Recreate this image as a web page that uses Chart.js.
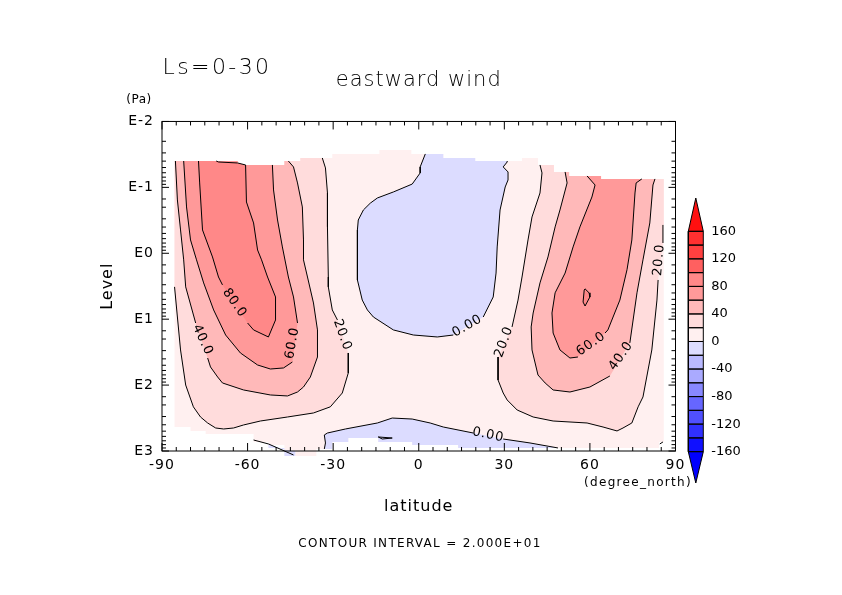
<!DOCTYPE html>
<html>
<head>
<meta charset="utf-8">
<title>eastward wind</title>
<script src="https://cdn.jsdelivr.net/npm/chart.js@4"></script>
<style>
  body { margin: 0; background: #fff; }
  #wrap { position: relative; width: 842px; height: 595px; }
  canvas { position: absolute; }
</style>
</head>
<body>
<div id="wrap">
  <canvas id="windChart" width="842" height="595" style="left:0;top:0"></canvas>
  <canvas id="colorBar" width="100" height="300" style="left:660px;top:190px"></canvas>
</div>
<script>
// all contour data is [latitude, log10(pressure in Pa)], null = gap left for a contour label
const latTicksMajor = 30;
const colorbarTicks = [-160, -120, -80, -40, 0, 40, 80, 120, 160];
const colorbarLevels = [-160, -140, -120, -100, -80, -60, -40, -20, 0, 20, 40, 60, 80, 100, 120, 140, 160];
const colorbarColors = ['#1010ff', '#3030ff', '#5050ff', '#6666ff', '#8888ff', '#aaaaff', '#b9b9ff', '#dcdcff',
                        '#fff0f0', '#ffdcdc', '#ffb9b9', '#ff9999', '#ff8888', '#ff6060', '#ff4040', '#ff3030'];
const colorbarTop = [[0, 160], [0.5, 208.4], [1, 160], [0, 160]];
const colorbarBottom = [[0, -160], [0.5, -205.5], [1, -160], [0, -160]];

// stepped outline of the data region
const domainOutline = [[-85.6,-1.40],[-63.5,-1.40],[-63.5,-1.34],[-47.1,-1.34],[-47.1,-1.40],[-41.5,-1.40],[-41.5,-1.446],[-30.3,-1.446],[-30.3,-1.507],[-13.8,-1.507],[-13.8,-1.567],[-2.6,-1.567],[-2.6,-1.507],[8.6,-1.507],[8.6,-1.446],[19.8,-1.446],[19.8,-1.40],[36.2,-1.40],[36.2,-1.446],[41.8,-1.446],[41.8,-1.34],[47.4,-1.34],[47.4,-1.234],[52.7,-1.234],[52.7,-1.173],[63.9,-1.173],[63.9,-1.128],[85.9,-1.128],[85.9,2.863],[84.2,2.863],[84.2,2.954],[13.8,2.954],[13.8,2.908],[-2.3,2.908],[-2.3,2.863],[-14.2,2.863],[-14.2,2.803],[-24.7,2.803],[-24.7,2.863],[-30.3,2.863],[-30.3,2.969],[-35.9,2.969],[-35.9,3.0],[-47.1,3.0],[-47.1,2.908],[-52.7,2.908],[-52.7,2.863],[-57.9,2.863],[-57.9,2.742],[-74.7,2.742],[-74.7,2.696],[-80,2.696],[-80,2.636],[-85.6,2.636]];

const zeroMain = [[2.3,-1.507],[0.5,-1.31],[0.5,-1.219],[-2.3,-1.05],[-8.9,-0.93],[-14.5,-0.839],[-17,-0.76],[-19.4,-0.657],[-21.2,-0.505],[-21.5,-0.354],[-21.5,0.405],[-19.8,0.71],[-18,0.86],[-15.9,0.967],[-8.9,1.163],[-1.9,1.24],[6.5,1.27],[12.1,1.24],null,[22.6,0.967],[23.3,0.906],[26.1,0.663],[27.1,0.30],[27.5,-0.096],[28.5,-0.657],[30.3,-1.006],[31.3,-1.112],[31.3,-1.234],[29.6,-1.31],[31,-1.385],[31,-1.40]];
const zeroMainEdge = [[19.8,-1.40],[19.8,-1.446],[8.6,-1.446],[8.6,-1.507]];
const zeroBottom = [[-33.1,2.969],[-32.7,2.878],[-33.1,2.757],[-32,2.727],[-25.7,2.666],[-14.5,2.575],[-9.3,2.5],[-2.3,2.515],[4,2.575],[8.6,2.636],[19.1,2.727],null,[29.6,2.818],[39,2.878],[48.8,2.954]];
const zeroBottomEdge = [[13.8,2.954],[13.8,2.908],[-2.3,2.908],[-2.3,2.863],[-14.2,2.863],[-14.2,2.803],[-24.7,2.803],[-24.7,2.863],[-30.3,2.863],[-30.3,2.969]];
const zeroSliver = [[-52.7,2.893],[-47.1,2.98],[-43.9,3.0],[-47.1,3.0],[-47.1,2.954],[-52.7,2.954]];
const zeroLens = [[-14.2,2.787],[-9.3,2.803],[-12.8,2.818],[-14.2,2.787]];
const zeroBottomLeft = [[-57.9,2.833],[-52.7,2.893],[-43.9,3.06]];
const cornerLine = [[84.5,2.893],[85.6,2.863]];
const belowAxisBlue = [[-47.1,3.038],[-43.2,3.038]];
const belowAxisPink = [[-43.2,3.038],[-35.9,3.038]];

const c20Left = [[-33.8,-1.446],[-32.7,-1.295],[-32,-0.915],[-32,-0.40],[-31.7,0.36],[-31.7,0.51],[-30.3,0.86],[-28.5,1.012],null,[-24.7,1.513],[-24.7,1.816],[-26.8,2.12],[-31,2.33],[-36.9,2.423],[-46,2.484],[-55.5,2.545],[-61.4,2.605],[-64.9,2.651],[-68.4,2.666],[-71.2,2.651],[-74,2.575],[-76.5,2.484],[-79,2.33],[-81.7,1.999],[-83.5,1.467],[-84.6,0.967],[-85.6,0.51]];
const c20LeftEdge = [[-85.6,-1.40],[-63.5,-1.40],[-63.5,-1.34],[-47.1,-1.34],[-47.1,-1.40],[-41.5,-1.40],[-41.5,-1.446]];
const c40Left = [[-85.3,-1.40],[-84.6,-0.809],[-83.5,-0.354],[-82.4,0.10],[-81.7,0.51],[-78.2,1.058],null,[-74,1.589],[-73,1.725],[-70.5,1.877],[-68.8,1.968],[-61.4,2.074],[-52,2.15],[-46,2.165],[-42.5,2.105],[-40.4,2.029],[-38,1.877],[-35.5,1.574],[-35.5,1.163],[-36.9,0.754],[-39,0.36],[-40.4,0.10],[-40.4,-0.202],[-40.8,-0.703],[-42.5,-1.067],[-43.9,-1.31],[-45.7,-1.40]];
const c40LeftEdge = [[-47.1,-1.40],[-47.1,-1.34],[-63.5,-1.34],[-63.5,-1.40]];
const c60Left = [[-82.4,-1.40],[-81.4,-0.703],[-80,-0.202],[-77.9,0.10],[-75.4,0.45],[-71.9,0.86],[-67.7,1.24],[-62.5,1.513],[-56.5,1.695],[-52,1.756],[-47.4,1.74],[-44.3,1.65],null,[-42.5,1.058],[-43.9,0.663],[-45.7,0.36],[-47.8,-0.096],[-49.5,-0.505],[-50.9,-0.961],[-51.3,-1.34]];
const c60LeftEdge = [[-63.5,-1.34],[-63.5,-1.40]];
const c80Left = [[-77.2,-1.40],[-76.8,-1.067],[-75.8,-0.354],[-72.3,0.056],[-70.2,0.36],[-68.8,0.48],null,[-60,1.058],[-57.9,1.163],[-52.7,1.27],[-50.2,1.012],[-50.2,0.663],[-53,0.36],[-55.1,0.10],[-56.5,-0.05],[-57.9,-0.46],[-60.4,-0.778],[-60.7,-1.34],[-63.5,-1.37],[-70.2,-1.385],[-71,-1.40]];

const c20Right = [[42.5,-1.34],[43.2,-1.219],[42.5,-0.915],[39.7,-0.551],[38.3,-0.202],[36.2,0.36],[34.8,0.71],[32.7,1.118],null,[27.8,1.574],[27.8,1.923],[29.6,2.12],[31,2.226],[34.5,2.378],[40.1,2.484],[47.1,2.545],[59,2.575],[64.6,2.636],[69.5,2.696],[71.6,2.651],[74.7,2.575],[76.9,2.33],[78.6,2.18],[81.7,1.467],[83.5,0.71],[83.9,0.405],null,[85.6,-0.156],[85.6,-0.43]];
const c20RightEdge = [[85.9,-0.43],[85.9,-1.128],[63.9,-1.128],[63.9,-1.173],[52.7,-1.173],[52.7,-1.234],[47.4,-1.234],[47.4,-1.34]];
const c40Right = [[82.8,-1.128],[82.1,-1.036],[81,-0.46],[78.6,0.10],[76.5,0.60],[74,1.36],null,[67,1.862],[60,2.029],[53,2.105],[47.1,2.074],[44.3,1.968],[41.8,1.847],[39.7,1.467],[39.4,1.118],[40.1,0.906],[42.5,0.45],[45.3,0.056],[47.8,-0.40],[49.5,-0.657],[52,-1.067],[51.3,-1.234]];
const c40RightEdge = [[52.7,-1.234],[52.7,-1.173],[63.9,-1.173],[63.9,-1.128]];
const c60Right = [[78.2,-1.128],[76.2,-1.067],[75.8,-0.915],[74.7,-0.202],[73,0.25],[70.5,0.71],[66.3,1.163],[65.3,1.21],null,[55.8,1.574],[53,1.589],[49.5,1.467],[47.1,1.21],[46.7,0.906],[47.8,0.60],[51.3,0.30],[54.1,-0.096],[56.5,-0.40],[60.7,-0.854],[61.8,-1.036],[59,-1.173]];
const c60RightEdge = [[63.9,-1.173],[63.9,-1.128]];
const c80Right = [[58,0.557],[58.3,0.54],[59.7,0.60],[60,0.663],[58.3,0.80],[57.6,0.74],[58,0.557]];

const labelTexts = ['80.0', '60.0', '40.0', '20.0', '0.00', '20.0', '60.0', '40.0', '20.0', '0.00'];
const labelLats = [-64.6, -44.3, -75.8, -26.8, 17, 29.9, 60.4, 70.9, 84.2, 24.3];
const labelLevels = [0.754, 1.361, 1.315, 1.24, 1.103, 1.346, 1.376, 1.558, 0.10, 2.757];
const labelAngles = [55, -80, 65, 70, -30, -70, -35, -55, -85, 12];

const FONT = '"DejaVu Sans"';
const toPoints = (pts, isLog) => pts.map(p => p ? { x: p[0], y: isLog ? Math.pow(10, p[1]) : p[1] } : { x: NaN, y: NaN });

function area(pts, color, isLog) {
    return { data: toPoints(pts.filter(p => p), isLog), showLine: true, fill: 'shape', backgroundColor: color, borderWidth: 0, pointRadius: 0, clip: false };
}
function contour(pts, isLog, width) {
    return { data: toPoints(pts, isLog), showLine: true, fill: false, borderColor: '#000', borderWidth: width || 1, pointRadius: 0, spanGaps: false, clip: false };
}
// first in the list is painted first
function stacked(list) {
    list.forEach((d, i) => { d.order = list.length - i; });
    return list;
}

const mainSets = stacked([
    area(domainOutline, '#fff0f0', true),
    area(zeroMain.concat(zeroMainEdge), '#dcdcff', true),
    area(zeroBottom.concat(zeroBottomEdge), '#dcdcff', true),
    area(zeroSliver, '#dcdcff', true),
    Object.assign(contour(belowAxisBlue, true, 5), { borderColor: '#dcdcff' }),
    Object.assign(contour(belowAxisPink, true, 5), { borderColor: '#fff0f0' }),
    area(c20Left.concat(c20LeftEdge), '#ffdcdc', true),
    area(c20Right.concat(c20RightEdge), '#ffdcdc', true),
    area(c40Left.concat(c40LeftEdge), '#ffb9b9', true),
    area(c40Right.concat(c40RightEdge), '#ffb9b9', true),
    area(c60Left.concat(c60LeftEdge), '#ff9999', true),
    area(c60Right.concat(c60RightEdge), '#ff9999', true),
    area(c80Left, '#ff8888', true),
    area(c80Right, '#ff8888', true),
    contour(zeroMain, true), contour(zeroBottom, true), contour(zeroLens, true),
    contour(zeroBottomLeft, true), contour(cornerLine, true),
    contour(c20Left, true), contour(c40Left, true), contour(c60Left, true), contour(c80Left, true),
    contour(c20Right, true), contour(c40Right, true), contour(c60Right, true), contour(c80Right, true)
]);

// inward tick marks on all four sides, frame, contour labels and free text
const framePlugin = {
    id: 'frame',
    beforeDraw(chart) {
        chart.ctx.letterSpacing = '1px'; // stroke font of the original runs wide
    },
    afterDatasetsDraw(chart) {
        const { ctx, chartArea: a, scales: { x, y } } = chart;
        ctx.save();
        ctx.strokeStyle = '#000';
        ctx.lineWidth = 1;
        ctx.strokeRect(a.left, a.top, a.right - a.left, a.bottom - a.top);
        ctx.beginPath();
        x.ticks.forEach(t => {
            const px = x.getPixelForValue(t.value);
            const len = t.value % latTicksMajor === 0 ? 8 : 4;
            ctx.moveTo(px, a.bottom); ctx.lineTo(px, a.bottom - len);
            ctx.moveTo(px, a.top); ctx.lineTo(px, a.top + len);
        });
        y.ticks.forEach(t => {
            const py = y.getPixelForValue(t.value);
            const len = isDecade(t.value) ? 7 : 4;
            ctx.moveTo(a.left, py); ctx.lineTo(a.left + len, py);
            ctx.moveTo(a.right, py); ctx.lineTo(a.right - len, py);
        });
        ctx.stroke();

        ctx.fillStyle = '#000';
        ctx.textAlign = 'center';
        ctx.textBaseline = 'middle';
        ctx.letterSpacing = '0.8px';
        ctx.font = '13px ' + FONT;
        labelTexts.forEach((txt, i) => {
            ctx.save();
            ctx.translate(x.getPixelForValue(labelLats[i]), y.getPixelForValue(Math.pow(10, labelLevels[i])));
            ctx.rotate(labelAngles[i] * Math.PI / 180);
            ctx.fillText(txt, 0, 0);
            ctx.restore();
        });

        ctx.letterSpacing = '2.4px';
        ctx.font = '200 22px ' + FONT;
        ctx.fillText('Ls=0-30', 217, 68);
        ctx.letterSpacing = '0.5px';
        ctx.font = '12px ' + FONT;
        ctx.fillText('(Pa)', 139, 100);
        ctx.letterSpacing = '1.3px';
        ctx.font = '12px ' + FONT;
        ctx.fillText('(degree_north)', 638, 483);
        ctx.fillText('CONTOUR INTERVAL = 2.000E+01', 420, 544);
        ctx.restore();
    }
};

function isDecade(v) {
    const l = Math.log10(v);
    return Math.abs(l - Math.round(l)) < 1e-9;
}

new Chart(document.getElementById('windChart'), {
    type: 'scatter',
    data: { datasets: mainSets },
    plugins: [framePlugin],
    options: {
        responsive: false,
        animation: false,
        layout: { padding: { left: 98, right: 166.5, top: 67, bottom: 79 } },
        plugins: {
            legend: { display: false },
            tooltip: { enabled: false },
            title: {
                display: true, text: 'eastward wind', fullSize: false, color: '#000',
                font: { family: FONT, size: 21, weight: 200, lineHeight: 1.26 },
                padding: { top: 0, bottom: 28 }
            }
        },
        scales: {
            x: {
                type: 'linear', min: -90, max: 90,
                grid: { display: false, drawTicks: false },
                border: { display: false },
                afterFit(s) { s.height = 65; },
                ticks: {
                    stepSize: 5, autoSkip: false, maxRotation: 0, padding: 6, color: '#000',
                    font: { family: FONT, size: 14 },
                    callback: v => v % latTicksMajor === 0 ? String(v) : ''
                },
                title: { display: true, text: 'latitude', color: '#000', padding: 0, font: { family: FONT, size: 16, lineHeight: 1.2 } }
            },
            y: {
                type: 'logarithmic', min: 0.01, max: 1000, reverse: true,
                grid: { display: false, drawTicks: false },
                border: { display: false },
                afterFit(s) { s.width = 64; },
                ticks: {
                    autoSkip: false, padding: 8, color: '#000',
                    font: { family: FONT, size: 14 },
                    callback: v => isDecade(v) ? 'E' + Math.round(Math.log10(v)) : ''
                },
                title: { display: true, text: 'Level', color: '#000', padding: 0, font: { family: FONT, size: 16, lineHeight: 1.2 } }
            }
        }
    }
});

// colour bar
const barSets = [
    area(colorbarBottom, '#0000ff'),
    area(colorbarTop, '#ff1010')
];
colorbarColors.forEach((c, i) => {
    const lo = colorbarLevels[i], hi = colorbarLevels[i + 1];
    barSets.push(area([[0, lo], [1, lo], [1, hi], [0, hi]], c));
});
barSets.push(contour(colorbarBottom), contour(colorbarTop));
colorbarColors.forEach((c, i) => {
    const lo = colorbarLevels[i], hi = colorbarLevels[i + 1];
    barSets.push(contour([[0, lo], [1, lo], [1, hi], [0, hi], [0, lo]]));
});

new Chart(document.getElementById('colorBar'), {
    type: 'scatter',
    data: { datasets: stacked(barSets) },
    options: {
        responsive: false,
        animation: false,
        layout: { padding: { left: 28.3, right: 0, top: 8, bottom: 7 } },
        plugins: { legend: { display: false }, tooltip: { enabled: false } },
        scales: {
            x: { type: 'linear', min: 0, max: 1, display: false },
            y: {
                type: 'linear', position: 'right', min: -205.5, max: 208.4,
                grid: { display: false, drawTicks: false },
                border: { display: false },
                afterFit(s) { s.width = 56.7; s.paddingTop = 0; s.paddingBottom = 0; },
                afterBuildTicks(s) { s.ticks = colorbarTicks.map(v => ({ value: v })); },
                ticks: {
                    padding: 8, color: '#000', autoSkip: false,
                    font: { family: FONT, size: 13 },
                    callback: v => String(v)
                }
            }
        }
    }
});
</script>
</body>
</html>
